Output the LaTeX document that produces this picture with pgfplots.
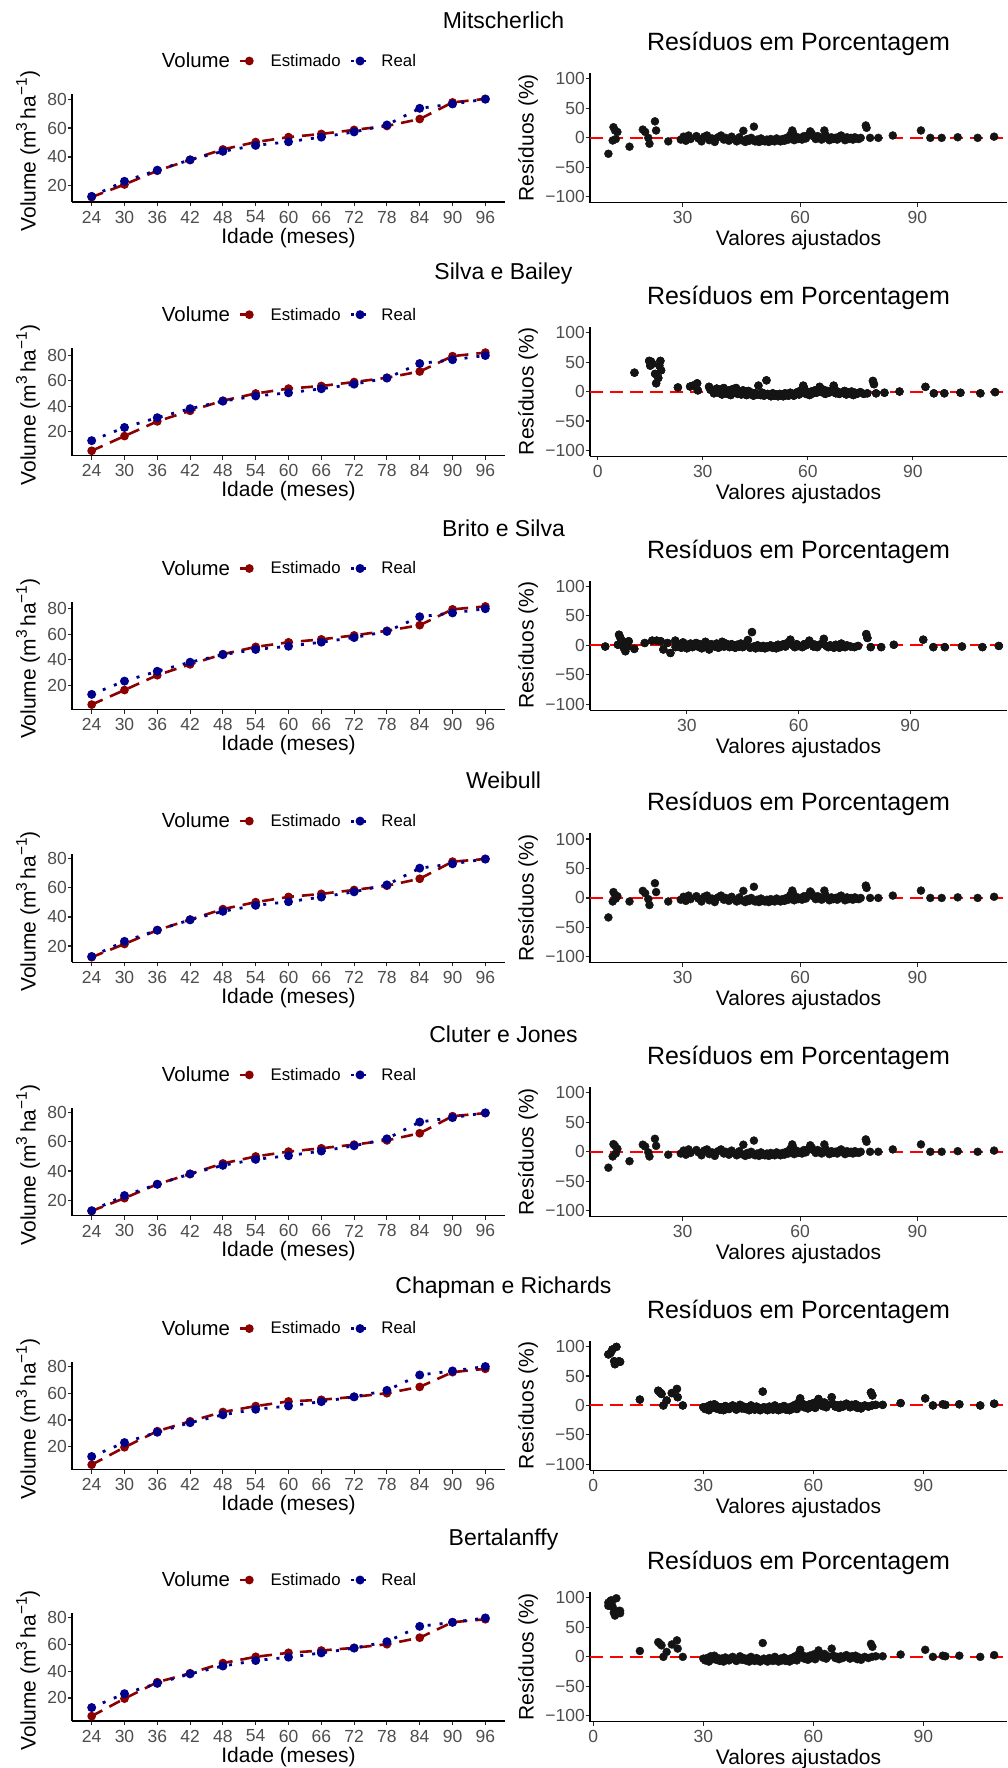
\documentclass[border=0pt]{standalone}
\usepackage{fontspec}
\setmainfont{Liberation Sans}
\usepackage{pgfplots}
\usepackage{pgfplotstable}
\pgfplotsset{compat=1.18}
\definecolor{est}{HTML}{8B0000}
\definecolor{rea}{HTML}{00008B}
\definecolor{tickgray}{HTML}{4D4D4D}

% ---------- left panel data ----------
\pgfplotstableread{
x y
24 12.8
30 23.2
36 30.9
42 38.0
48 43.9
54 48.0
60 50.5
66 53.7
72 57.3
78 62.1
84 73.6
90 76.6
96 79.9
}\real
\pgfplotstableread{
x y
24 12.3
30 21.0
36 30.5
42 38.0
48 45.2
54 50.3
60 53.7
66 55.9
72 58.7
78 61.4
84 66.2
90 77.7
96 80.1
}\estMit
\pgfplotstableread{
x y
24 4.8
30 16.4
36 28.0
42 36.3
48 44.3
54 50.0
60 53.8
66 55.9
72 59.0
78 62.4
84 67.3
90 79.4
96 82.2
}\estSil
\pgfplotstableread{
x y
24 4.8
30 16.2
36 27.8
42 36.3
48 44.3
54 50.0
60 53.6
66 55.9
72 59.0
78 62.6
84 67.0
90 79.4
96 81.7
}\estBri
\pgfplotstableread{
x y
24 12.3
30 21.4
36 30.9
42 38.2
48 45.4
54 50.2
60 53.8
66 55.9
72 58.6
78 61.5
84 66.3
90 78.1
96 79.9
}\estWei
\pgfplotstableread{
x y
24 12.6
30 21.4
36 31.0
42 38.0
48 45.2
54 50.0
60 53.3
66 55.6
72 58.1
78 61.0
84 65.9
90 77.6
96 79.7
}\estClu
\pgfplotstableread{
x y
24 6.7
30 19.7
36 31.7
42 39.1
48 46.0
54 50.4
60 53.9
66 55.1
72 57.3
78 60.0
84 64.7
90 75.7
96 78.2
}\estCha
\pgfplotstableread{
x y
24 6.4
30 19.5
36 31.8
42 38.5
48 46.1
54 50.8
60 53.8
66 55.5
72 57.5
78 60.2
84 65.1
90 76.7
96 78.9
}\estBer

% ---------- right panel data ----------
\pgfplotstableread{
x y
29.5 -3
30.2 2
30.8 -5
31.5 4
32 -2
33.5 3
34 -1
34.8 -6
35.5 2
36.2 4
36.8 -4
37.5 -1
38.2 -7
39 1
39.8 4
40.5 -3
41 0
41.8 -5
42.5 2
43 -2
43.8 -6
44.5 1
45 -4
45.5 12
46 -7
46.5 -2
47 -5
47.5 0
48.2 19
48.5 -6
49 -3
49.5 -7
50 -1
50.5 -5
51 -6
51.5 -3
52 -7
52.5 -2
53 -5
53.5 -6
54 -1
54.5 -4
55 -6
55.5 -2
56 -5
56.5 0
57 -3
57.5 5
58 12.5
58.2 8
58.5 -4
59 2
59.5 -2
60 0
60.5 -3
61 3
61.5 -1
62 4
62.6 11
63 7
63.5 2
64 -2
64.5 3
65 1
65.5 -3
66.2 12.5
66.5 5
67 -1
67.5 -4
68 1
68.5 -2
69 0
69.5 -3
70 2
70.5 4
71 -1
71.5 -4
72 1
72.5 -2
73 0
73.5 -3
74 1
74.5 -1
75 -2
75.5 0
76.8 21
77 17
77.9 0
80 0
83.7 4
90.9 12.5
93.3 0
96.2 0
100.3 1
105.4 0
109.6 2
}\clusterA
\pgfplotstableread{
x y
11 -27
12.3 18
12.7 12.5
13.3 10
12.1 -4.5
12.9 -2
16.4 -15
19.8 14
20.4 10
21.2 0
21.5 -10
22.9 28
23.2 12.5
26.3 -6
}\earlyMit
\pgfplotstableread{
x y
11 -33
12.3 10
12.7 5
13.3 3
12.1 -6
12.9 -1
16.4 -6
19.8 12
20.4 8
21.2 -2
21.5 -12
22.9 25
23.2 10
26.3 -6
}\earlyWei
\pgfplotstableread{
x y
11 -27
12.3 13
12.7 10
13.3 5
12.1 -8
12.9 -3
16.4 -16
19.8 12
20.4 9
21.2 -1
21.5 -8
22.9 22
23.2 10
26.3 -5
}\earlyClu
\pgfplotstableread{
x y
10.5 32
14.7 52
15.2 51
15.6 47
15.0 44
16.4 30
16.7 14
17.3 23
17.9 52
18.1 36
17.6 44
22.9 7
26.4 8.5
27.2 10
28.4 14
28.6 2
31.8 8
32.2 3
33.2 -3
34 5
34.5 -2
35 3
35.5 -5
36 6
36.5 1
37 -4
37.5 2
38 -6
38.5 4
39 -2
39.5 6
40 -4
40.5 0
41 -5
41.5 2
42 -3
42.5 -6
43 1
43.5 -4
44 -2
44.5 -7
45 -3
45.5 -5
45.9 10
46.5 -6
47 -2
47.5 -7
48.2 19
48.5 -4
49 -6
49.5 -8
50 -3
50.5 -7
51 -5
51.5 -8
52 -4
52.5 -6
53 -8
53.5 -3
54 -6
54.5 -7
55 -2
55.5 -5
56 -7
56.5 -3
57 -1
57.5 -5
58 2
58.7 10
59 5
59.5 -4
60 -1
60.5 -6
61 0
61.5 -3
62 2
62.5 -2
63 4
63.4 8
64 -1
64.5 3
65 -4
65.5 1
66 -2
67 2
67.4 10
68 -3
68.5 0
69 -4
70 -2
70.5 1
71 -5
71.5 -1
72 -3
72.5 0
73 -6
73.5 -2
74 -4
75 -1
76 -4
77 -3
78.6 18
78.9 12.5
79.5 -3
81.9 -2
86.2 0
93.6 8
96 -3
99 -3
103.6 -2
109.3 -3
113.5 -1
}\resSil
\pgfplotstableread{
x y
8.1 -2
11.8 18
12.2 12
12.7 7
11.5 1
13.1 -4.5
13.5 -10
13.0 1
14.0 -2
14.4 7
15.9 -6
18.7 4
20.7 8
21.9 8
23.0 7
23.7 -7
25.6 -13
24.8 4
26.9 8
27.0 -3
28 2
28.5 -4
29 5
29.5 -2
30 -5
30.5 1
31 3
31.5 -3
32 -1
32.5 4
33 -2
33.5 2
34 -5
34.5 0
35 6
35.5 -3
36 -7
36.5 2
37 0
37.5 -2
38 3
38.5 -4
39 1
39.5 6
40 -2
40.5 3
41 0
41.5 -3
42 2
42.5 -1
43 -4
43.5 1
44 -2
44.5 3
45 -3
45.5 0
46.4 9
47 -4
47.5 22.5
48 -2
48.5 -5
49 0
49.5 -3
50 -4
50.5 -1
51 -5
51.5 -2
52 -3
52.5 0
53 -4
53.5 -2
54 -5
54.5 1
55 -3
55.5 -1
56 2
56.5 -2
57 4
57.8 9.6
58.5 0
59 -3
59.5 2
60 -1
61 -3
61.5 2
62 0
62.9 8
63.5 3
64 -2
64.5 1
65 -3
66 2
66.8 11
67.5 -1
68 -3
68.5 0
69 -2
69.5 -4
70 1
70.5 -2
71 -4
71.5 3
72 -1
72.5 -3
73 0
74 -2
75 -3
76 -1
78.2 19
78.5 12.5
79.4 -3
82.2 -3
85.6 1
93.5 9.6
96.2 -3
99.3 -3
103.9 -2
109.4 -3
113.8 -1
}\resBri
\pgfplotstableread{
x y
4.1 86.6
4.7 89
5.2 95
6.3 99.4
5.7 75
5.9 70
7.0 75
7.3 74
12.7 10
17.7 25
18.2 22
18.6 19.5
19.1 0
20.0 8.4
21.4 21
22.8 28
23.0 14
24.4 0
30 -3
30.5 -6
31 -2
31.5 -8
32 1
32.5 -4
33 2
33.5 -5
34 -2
34.5 -7
35 -3
35.5 -8
36 -1
36.5 -5
37 -6
37.5 -2
38 0
38.5 -4
39 -7
39.5 -3
40 1
40.5 -5
41 -2
41.5 -6
42 -3
42.5 -8
43 0
43.5 -5
44 -7
44.5 -2
45 -4
45.5 -8
46.2 23.5
46.5 -3
47 -6
47.5 -8
48 -2
48.5 -5
49 -7
49.5 0
50 -4
50.5 -8
51 -3
51.5 -6
52 -1
52.5 -7
53 -4
53.5 -8
54 -2
54.5 -5
55 1
55.5 -6
56 5
56.4 12
57 3
57.5 -3
58 0
58.5 -5
59 2
59.5 -2
60 4
60.5 -4
61 6
61.4 11
62 3
62.5 -1
63 5
63.5 -3
64 1
65 14
65.5 2
66 -2
66.5 0
67 -4
67.5 1
68 -2
69 3
69.5 0
70 -3
70.5 1
71 -1
71.5 2
72 -4
72.5 -1
73 -5
74 0
75 -2
76 0
77 1
75.7 22
76.1 17
78.9 1
83.8 4
90.5 12
92.6 0
95.3 2
96.0 1
99.8 2
105.5 0
109.3 3
}\resCha
\pgfplotstableread{
x y
4.1 92
4.7 95
4.9 96
5.3 84.5
5.6 75
7.0 78
7.3 78
}\earlyBer

\newcommand{\sups}[1]{\raisebox{0.42em}{\fontsize{15.5}{16}\selectfont #1}}

\pgfplotsset{
  commonax/.style={
    scale only axis, anchor=north west,
    axis x line*=bottom, axis y line*=left,
    axis line style={-, line width=1.1pt, black},
    tick align=outside, major tick length=4pt,
    tick style={line width=1.1pt, black!85},
    /pgf/number format/assume math mode=true,
    ticklabel style={font=\fontsize{17.5}{18}\selectfont, text=tickgray},
    xticklabel style={anchor=center, yshift=-11pt},
    yticklabel style={anchor=east, inner sep=0pt, xshift=-1pt},
    label style={font=\fontsize{21}{24}\selectfont},
  },
  leftpanel/.style={
    commonax, width=433pt, height=108pt,
    xmin=20.4, xmax=99.6, xtick={24,30,...,96},
    ytick={20,40,60,80}, enlarge y limits=0.05,
    xlabel={Idade (meses)},
    ylabel={Volume (m\sups{3}\,ha\sups{−1})},
    xlabel style={at={(axis description cs:0.5,-0.33)}, anchor=center},
    ylabel style={at={(axis description cs:-0.1016,0.47)}, anchor=center},
    legend style={draw=none, fill=none, at={(0.5,1)}, anchor=center, yshift=33pt, xshift=-4pt,
      legend columns=-1, font=\fontsize{16.8}{18}\selectfont,
      /tikz/every odd column/.append style={column sep=9pt},
      /tikz/every even column/.append style={column sep=7pt}},
    legend image code/.code={\draw[mark repeat=2,mark phase=2,#1] plot coordinates {(0pt,0pt)(9pt,0pt)(18pt,0pt)};},
  },
  rightpanel/.style={
    commonax, width=417pt, height=129.7pt,
    ymin=-110, ymax=110, ytick={-100,-50,0,50,100},
    yticklabels={−100,−50,0,50,100},
    xtick={0,30,60,90},
    xlabel={Valores ajustados}, ylabel={Resíduos (\%)},
    xlabel style={at={(axis description cs:0.5,-0.29)}, anchor=center},
    ylabel style={at={(axis description cs:-0.1487,0.5)}, anchor=center},
    title={Resíduos em Porcentagem},
    title style={font=\fontsize{25}{28}\selectfont, at={(0.5,1)}, anchor=center, yshift=23pt},
  },
  estline/.style={est, line width=2.6pt, dash pattern=on 12pt off 8pt, mark=*, mark size=3pt, mark options={solid}},
  realline/.style={rea, line width=2.8pt, line cap=butt, dash pattern=on 3pt off 9pt, mark=*, mark size=3pt, mark options={solid}},
  resmark/.style={only marks, mark=*, mark size=4pt, fill=black!92, draw=black!92},
}

\newcommand{\rowtitle}[2]{\node[font=\fontsize{23}{26}\selectfont, anchor=center] at (503.5pt,{-(20.3+#1)*1pt}) {#2};}
\newcommand{\leftpanel}[2]{%
  \begin{axis}[leftpanel, at={(72pt,{-(94+#1)*1pt})}]
    \addlegendimage{empty legend}
    \addlegendentry{\fontsize{20.4}{22}\selectfont Volume}
    \addplot[estline] table {#2};
    \addlegendentry{Estimado}
    \addplot[realline] table {\real};
    \addlegendentry{Real}
  \end{axis}}
\newcommand{\rightpanel}[5]{%
  \begin{axis}[rightpanel, at={(590pt,{-(73+#1)*1pt})}, xmin=#2, xmax=#3]
    \addplot[resmark] table {#4};
    \addplot[resmark] table {#5};
    \addplot[red, line width=2pt, dash pattern=on 13pt off 7pt] coordinates {(#2,0) (#3,0)};
  \end{axis}}

\begin{document}
\begin{tikzpicture}
\useasboundingbox (0,0) rectangle (1007pt,-1768pt);
% Row 1
\rowtitle{0}{Mitscherlich}
\leftpanel{0}{\estMit}
\rightpanel{0}{6.3}{112.9}{\earlyMit}{\clusterA}
% Row 2
\rowtitle{253.7}{Silva e Bailey}
\leftpanel{253.7}{\estSil}
\rightpanel{253.7}{-2.2}{116.9}{\resSil}{\resSil}
% Row 3
\rowtitle{507.5}{Brito e Silva}
\leftpanel{507.5}{\estBri}
\rightpanel{507.5}{4.0}{116.0}{\resBri}{\resBri}
% Row 4
\rowtitle{760.1}{Weibull}
\leftpanel{760.1}{\estWei}
\rightpanel{760.1}{6.3}{112.9}{\earlyWei}{\clusterA}
% Row 5
\rowtitle{1013.9}{Cluter e Jones}
\leftpanel{1013.9}{\estClu}
\rightpanel{1013.9}{6.3}{112.9}{\earlyClu}{\clusterA}
% Row 6
\rowtitle{1267.6}{Chapman e Richards}
\leftpanel{1267.6}{\estCha}
\rightpanel{1267.6}{-0.9}{112.8}{\resCha}{\resCha}
% Row 7
\rowtitle{1519.0}{Bertalanffy}
\leftpanel{1519.0}{\estBer}
\rightpanel{1519.0}{-0.9}{112.8}{\resCha}{\earlyBer}
\end{tikzpicture}
\end{document}
